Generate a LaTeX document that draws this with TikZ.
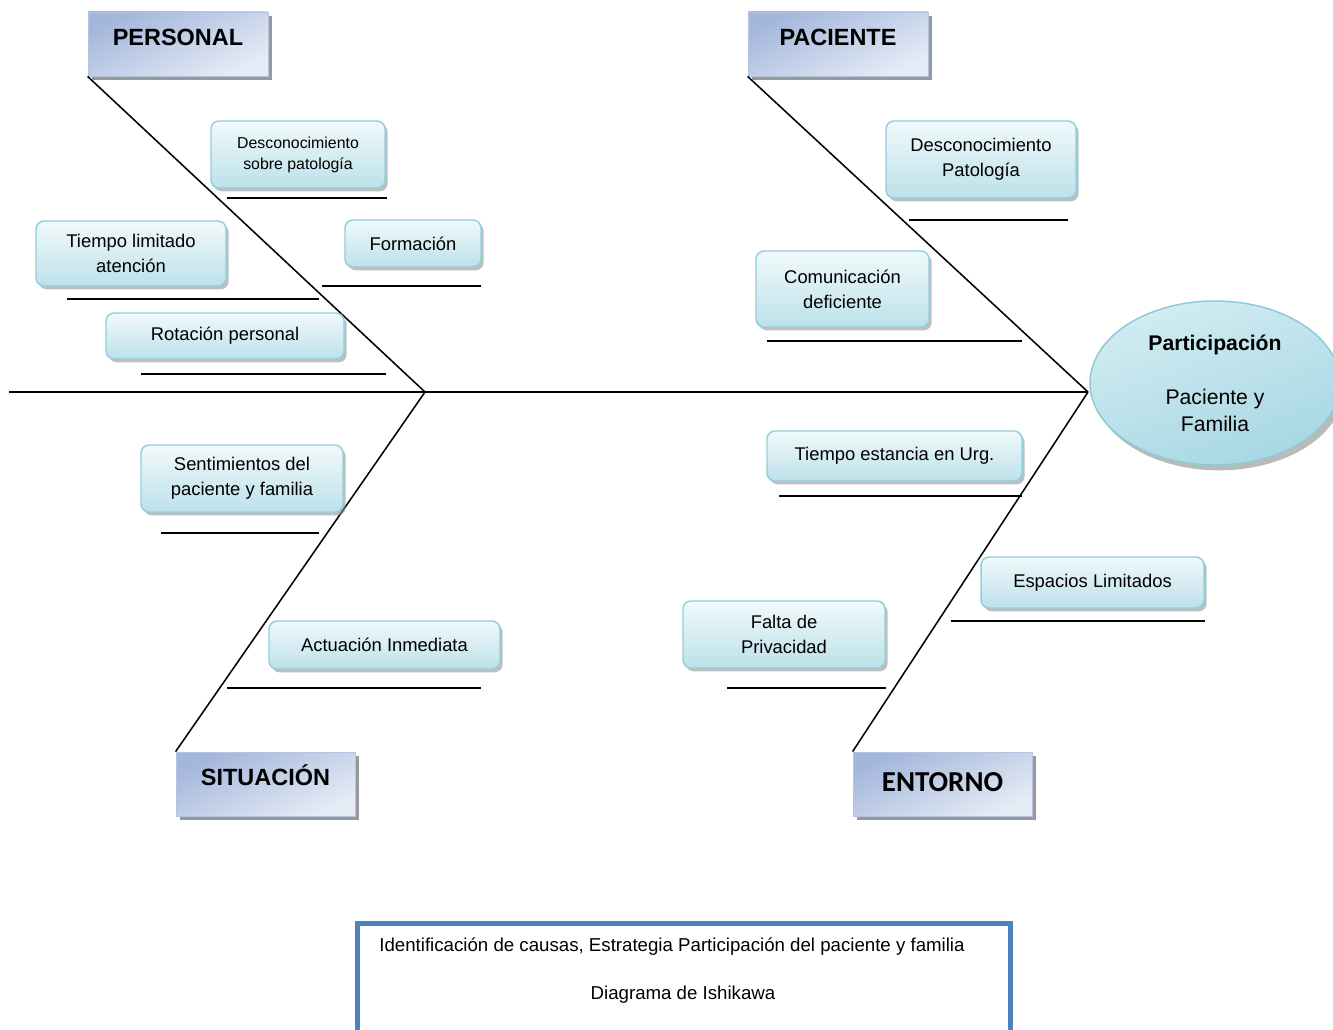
\documentclass[tikz,border=0pt]{standalone}
\usepackage{fontspec}
\setmainfont{Liberation Sans}
\newfontfamily\calibrifont{Carlito}
\usetikzlibrary{shadows,shapes.geometric}
\definecolor{catTop}{HTML}{A3B6DB}
\definecolor{catBot}{HTML}{E6ECF6}
\definecolor{catBorder}{HTML}{B4C5E4}
\definecolor{causeTop}{HTML}{F1F9FB}
\definecolor{causeBot}{HTML}{BCE1EA}
\definecolor{causeBorder}{HTML}{92CEDC}
\definecolor{headTop}{HTML}{D2ECF2}
\definecolor{headBot}{HTML}{A7D7E3}
\definecolor{headBorder}{HTML}{8DCADA}
\definecolor{capBlue}{HTML}{4F81BD}
\begin{document}
\begin{tikzpicture}[x=0.75pt,y=-0.75pt,
  sz/.style 2 args={minimum width={#1*0.75pt}, minimum height={#2*0.75pt}},
  catbox/.style={draw=catBorder, line width=0.6pt, top color=catTop, bottom color=catBot,
    shading angle=25, inner sep=0pt,
    drop shadow={shadow xshift=3pt, shadow yshift=-3pt, fill=black!50, opacity=0.8},
    font=\bfseries\fontsize{17.6}{21}\selectfont, text height=12pt, text depth=10pt},
  causebox/.style={draw=causeBorder, line width=1.1pt, rounded corners=6pt,
    top color=causeTop, bottom color=causeBot, inner sep=0pt, align=center,
    drop shadow={shadow xshift=2pt, shadow yshift=-2.5pt, fill=black!45, opacity=0.55},
    font=\fontsize{13.8}{18.75}\selectfont},
  smallcause/.style={causebox, font=\fontsize{11.9}{15.75}\selectfont},
  headnode/.style={ellipse, draw=headBorder, line width=1.1pt, top color=headTop,
    bottom color=headBot, shading angle=20, inner sep=0pt, align=center,
    drop shadow={shadow xshift=3pt, shadow yshift=-4pt, fill=black!45, opacity=0.6},
    font=\fontsize{15.9}{20.25}\selectfont},
  bone/.style={line width=1.15pt, black},
  uline/.style={line width=1.15pt, black},
  capbox/.style={draw=capBlue, line width=3.75pt, fill=white, inner sep=0pt},
  captext/.style={inner sep=0pt, font=\fontsize{14}{17}\selectfont}
]
\clip (0,0) rectangle (1333,1030);
\fill[white] (0,0) rectangle (1333,1030);

% spine and junctions
\coordinate (tail) at (9,392);
\coordinate (j1) at (425,392);
\coordinate (j2) at (1088,392);

% category boxes
\node[catbox, sz={180}{64}] (personal) at (178,44) {PERSONAL};
\node[catbox, sz={180}{64}] (paciente) at (838,44) {PACIENTE};
\node[catbox, sz={179}{64}] (situacion) at (265.5,784) {SITUACIÓN};
\node[catbox, sz={179}{64}, font=\calibrifont\bfseries\fontsize{21.7}{26}\selectfont, text height=0pt, text depth=0pt] (entorno) at (942.5,784) {\raisebox{-0.5ex}{ENTORNO}};

% head
\node[headnode, sz={250}{164}] (head) at (1215,383)
  {\textbf{Participación}\\[20.25pt]Paciente y\\Familia};

% bones
\draw[bone] (tail) -- (j2);
\draw[bone] (personal.south west) -- (j1);
\draw[bone] (paciente.south west) -- (j2);
\draw[bone] (j1) -- (situacion.north west);
\draw[bone] (j2) -- (entorno.north west);

% cause boxes
\node[smallcause, sz={174}{67}] (dsp) at (298,154.5) {Desconocimiento\\sobre patología};
\node[causebox, sz={136}{47}] (formacion) at (413,243.5) {Formación};
\node[causebox, sz={190}{65}] (tiempo) at (131,253.5) {Tiempo limitado\\atención};
\node[causebox, sz={238}{46}] (rotacion) at (225,336) {Rotación personal};
\node[causebox, sz={190}{77}] (descp) at (981,159.5) {Desconocimiento\\Patología};
\node[causebox, sz={173}{76}] (comunic) at (842.5,289) {Comunicación\\deficiente};
\node[causebox, sz={255}{50}] (turg) at (894.5,456) {Tiempo estancia en Urg.};
\node[causebox, sz={223}{51}] (espacios) at (1092.5,582.5) {Espacios Limitados};
\node[causebox, sz={202}{67}] (falta) at (784,634.5) {Falta de\\Privacidad};
\node[causebox, sz={202}{67}] (sentim) at (242,478.5) {Sentimientos del\\paciente y familia};
\node[causebox, sz={231}{48}] (actuacion) at (384.5,645) {Actuación Inmediata};

% underlines
\draw[uline] (227,198) -- (387,198);
\draw[uline] (322,286) -- (481,286);
\draw[uline] (67,299) -- (319,299);
\draw[uline] (141,374) -- (386,374);
\draw[uline] (909,220) -- (1068,220);
\draw[uline] (767,341) -- (1022,341);
\draw[uline] (779,496) -- (1022,496);
\draw[uline] (951,621) -- (1205,621);
\draw[uline] (727,688) -- (886,688);
\draw[uline] (161,533) -- (319,533);
\draw[uline] (227,688) -- (481,688);

% caption
\node[capbox, sz={653}{118}] (caption) at (683.5,982) {};
\node[captext] (cap1) at (672,947) {Identificación de causas, Estrategia Participación del paciente y familia};
\node[captext] (cap2) at (683,995) {Diagrama de Ishikawa};
\end{tikzpicture}
\end{document}
